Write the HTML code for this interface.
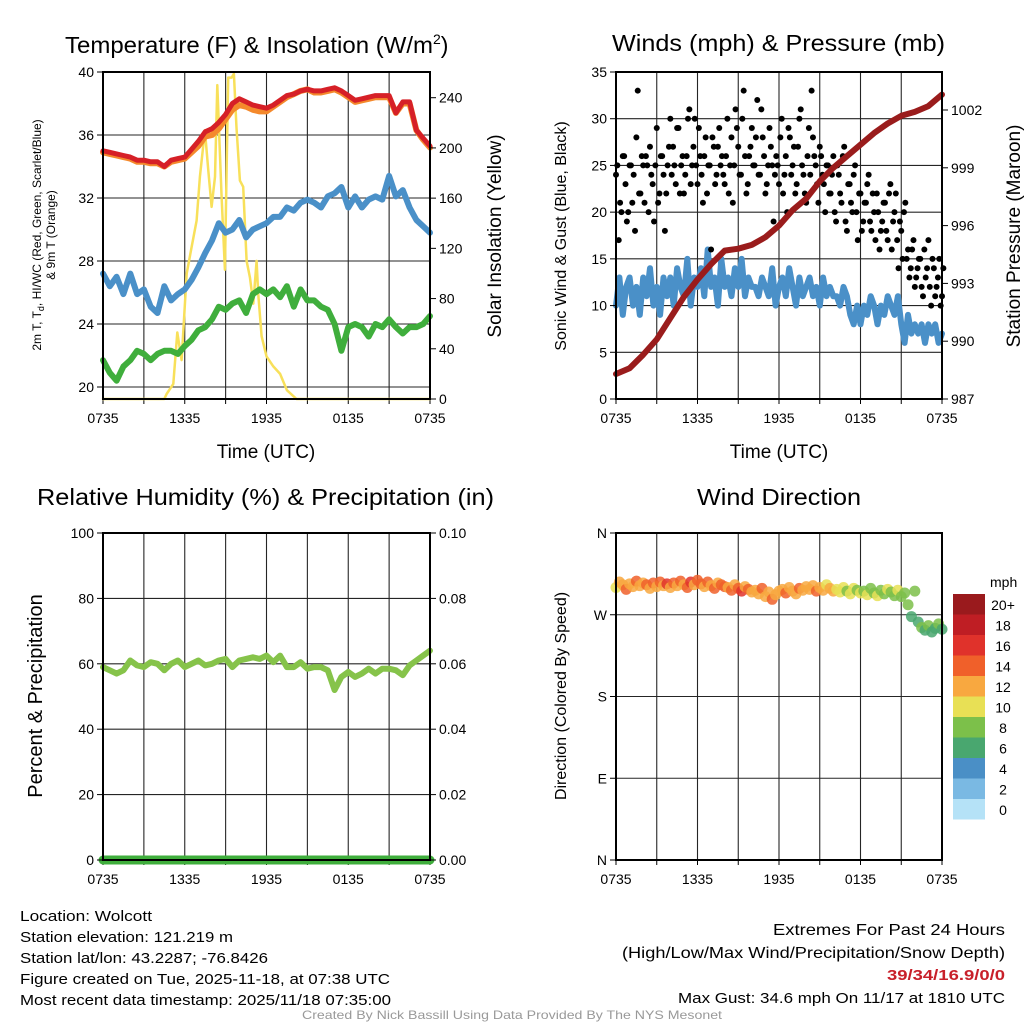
<!DOCTYPE html>
<html><head><meta charset="utf-8">
<style>
html,body{margin:0;padding:0;background:#fff;}
svg{display:block;font-family:"Liberation Sans",sans-serif;}
</style></head>
<body>
<svg id="chart" width="1024" height="1024" viewBox="0 0 1024 1024" xmlns="http://www.w3.org/2000/svg">
  <rect width="1024" height="1024" fill="#fff"/>
  <g id="layer"></g>
  <g font-size="23" fill="#000">
    <text x="65" y="53"><tspan textLength="368" lengthAdjust="spacingAndGlyphs">Temperature (F) &amp; Insolation (W/m</tspan><tspan dy="-9" font-size="14">2</tspan><tspan dy="9">)</tspan></text>
    <text x="612" y="51" textLength="333" lengthAdjust="spacingAndGlyphs">Winds (mph) &amp; Pressure (mb)</text>
    <text x="37" y="505" textLength="457" lengthAdjust="spacingAndGlyphs">Relative Humidity (%) &amp; Precipitation (in)</text>
    <text x="697" y="505" textLength="164" lengthAdjust="spacingAndGlyphs">Wind Direction</text>
  </g>
  <g fill="#000" text-anchor="middle">
    <text x="266" y="458" font-size="19">Time (UTC)</text>
    <text x="779" y="458" font-size="19">Time (UTC)</text>
    <text transform="translate(41,235) rotate(-90)" font-size="12">2m T, T<tspan font-size="9" dy="3">d</tspan><tspan dy="-3">, HI/WC (Red, Green, Scarlet/Blue)</tspan></text>
    <text transform="translate(55,235) rotate(-90)" font-size="12">&amp; 9m T (Orange)</text>
    <text transform="translate(501,236) rotate(-90)" font-size="19">Solar Insolation (Yellow)</text>
    <text transform="translate(566,236) rotate(-90)" font-size="16">Sonic Wind &amp; Gust (Blue, Black)</text>
    <text transform="translate(1020,236) rotate(-90)" font-size="19">Station Pressure (Maroon)</text>
    <text transform="translate(42,696) rotate(-90)" font-size="20">Percent &amp; Precipitation</text>
    <text transform="translate(566,696) rotate(-90)" font-size="16">Direction (Colored By Speed)</text>
  </g>
  <g font-size="15" fill="#000">
    <text x="20" y="921" textLength="132" lengthAdjust="spacingAndGlyphs">Location: Wolcott</text>
    <text x="20" y="942" textLength="213" lengthAdjust="spacingAndGlyphs">Station elevation: 121.219 m</text>
    <text x="20" y="963" textLength="248" lengthAdjust="spacingAndGlyphs">Station lat/lon: 43.2287; -76.8426</text>
    <text x="20" y="984" textLength="370" lengthAdjust="spacingAndGlyphs">Figure created on Tue, 2025-11-18, at 07:38 UTC</text>
    <text x="20" y="1005" textLength="371" lengthAdjust="spacingAndGlyphs">Most recent data timestamp: 2025/11/18 07:35:00</text>
  </g>
  <g fill="#000">
    <text x="773" y="935" font-size="16" textLength="232" lengthAdjust="spacingAndGlyphs">Extremes For Past 24 Hours</text>
    <text x="622" y="958" font-size="16" textLength="383" lengthAdjust="spacingAndGlyphs">(High/Low/Max Wind/Precipitation/Snow Depth)</text>
    <text x="887" y="980" font-size="15" font-weight="bold" fill="#c8202a" textLength="118" lengthAdjust="spacingAndGlyphs">39/34/16.9/0/0</text>
    <text x="678" y="1003" font-size="15" textLength="327" lengthAdjust="spacingAndGlyphs">Max Gust: 34.6 mph On 11/17 at 1810 UTC</text>
  </g>
  <text x="302" y="1019" font-size="12" fill="#999" textLength="420" lengthAdjust="spacingAndGlyphs">Created By Nick Bassill Using Data Provided By The NYS Mesonet</text>
</svg>
<script>
// ---- data (times in hours since 0735 UTC) ----
var xTickLabels = ["0735","1335","1935","0135","0735"];
var tempRed = [35.0,34.9,34.8,34.7,34.6,34.4,34.4,34.3,34.3,34.0,34.4,34.5,34.6,35.1,35.6,36.2,36.4,36.8,37.3,38.0,38.3,38.1,37.9,37.8,37.7,37.9,38.2,38.5,38.6,38.8,38.9,38.8,38.8,38.9,39.0,38.8,38.5,38.2,38.3,38.4,38.5,38.5,38.5,37.4,38.1,38.1,36.3,35.8,35.3];
var temp9m = [34.9,34.8,34.7,34.6,34.5,34.3,34.3,34.2,34.2,34.0,34.3,34.4,34.5,34.9,35.3,35.9,36.0,36.4,37.0,37.6,37.9,37.8,37.6,37.5,37.5,37.8,38.1,38.4,38.6,38.8,38.9,38.7,38.7,38.8,38.9,38.7,38.4,38.1,38.2,38.3,38.4,38.4,38.4,37.4,38.0,38.0,36.3,35.7,35.2];
var tempBlue = [27.2,26.4,27.0,25.9,27.2,25.9,26.2,25.1,24.7,26.4,25.5,25.9,26.2,26.8,27.6,28.5,29.3,30.4,29.8,30.0,30.6,29.5,30.0,30.2,30.4,30.8,30.8,31.4,31.2,31.7,31.9,31.7,31.4,32.1,32.3,32.7,31.4,32.1,31.4,31.9,32.1,31.9,33.4,32.1,32.5,31.4,30.6,30.2,29.8];
var dewGreen = [21.7,20.9,20.4,21.3,21.7,22.3,22.1,21.7,22.1,22.3,22.3,22.1,22.6,23.0,23.6,23.8,24.3,25.1,24.9,25.3,25.5,24.7,25.9,26.2,25.9,26.2,25.7,26.4,25.1,26.2,25.5,25.5,25.1,24.9,24.0,22.3,23.8,24.0,23.8,23.2,24.0,23.8,24.3,23.8,23.4,23.8,23.8,24.0,24.5];
var solarTimes = [0,4.5,4.67,5.16,5.45,5.77,6.14,6.5,6.87,7.11,7.48,7.73,7.97,8.22,8.39,8.7,8.95,9.19,9.44,9.61,9.8,10.05,10.29,10.54,10.78,11.03,11.27,11.39,11.64,12,12.5,13,13.5,14.2,24];
var solarVals = [0,0,4,12,53,31,100,121,142,177,214,182,153,177,250,163,103,256,256,259,216,174,169,110,97,76,110,84,50,34,26,20,7,0,0];
var sonicWind = [10,13,9,12,13,10,12,9,13, 11,14,10,12,9,13,11,13, 10,14,12,11,15,10,13,12, 14,11,16,12,13,10,15,12, 13,11,14,12,15,11,13,12, 12,11,13,12,11,14,10,12, 13,11,14,12,10,13,11,12, 13,11,12,10,13,11,12,11, 11,10,12,11,9,8,10,8, 10,9,11,10,8,10,9,11, 10,9,11,8,6,9,7,8, 7,8,6,8,7,8,6,7];
var gusts = [24,17,20,26,19,25,21,18,33,22,25,26,20,24,19,29,22,26,18,25,30, 27,23,29,25,22,26,31,25,30,23,26,21,28,25,16,27,24,29,26, 23,30,25,21,31,27,24,33,22,26,29,25,32,24,28,22,25,27,19, 26,23,30,24,20,28,25,22,27,31,24,21,29,33,26,23,27,24,20,25, 22,26,19,24,21,27,18,23,20,25,17,22,19,21,24,18,20,22,16, 19,21,17,23,19,22,14,18,20,15,13,16,12,14,15,11,13,17,10,14,12,15,11];
var gusts2 = [25,21,26,23,20,25,24,28,22,26,21,25,27,23,25,21,26,24,22,27,24, 25,29,22,26,24,30,23,27,25,29,24,26,22,25,28,23,27,25,24, 26,22,28,25,29,24,30,26,23,27,25,28,24,31,26,23,29,25,24, 25,28,22,26,29,24,27,23,30,25,22,26,24,28,25,21,26,23,25,22, 24,20,25,22,26,19,23,21,24,20,22,18,21,23,19,22,17,20,18, 21,18,22,16,20,17,19,15,21,16,14,17,13,15,12,16,14,12,15,11,13,10,14];
var pressure = [988.3,988.6,989.3,990.1,991.2,992.3,993.2,994.0,994.7,994.8,995.0,995.4,996.0,996.8,997.4,998.3,999.0,999.6,1000.2,1000.8,1001.3,1001.7,1001.9,1002.2,1002.8];
var humidity = [59,58,57,58,61,59.5,59,60.5,60,58,60,61,59,60,61,59.5,60,61,61.5,59,61,61.5,62,61.5,62.5,60.5,62.5,59,59,60.5,58.5,59,59,58,52,56,57.5,56,57,58.5,57,58.5,58.5,58,56.5,59.5,61,62.5,64];
var precip = [0,0,0,0,0,0,0,0,0,0,0,0,0,0,0,0,0,0,0,0,0,0,0,0,0];
var windDir = [300,306,303,298,304,301,307,302,305, 303,299,305,301,306,302,304,300, 305,302,307,303,300,306,303,308, 304,301,306,302,299,305,303,301, 300,297,303,299,296,301,298,295, 297,293,299,290,295,287,292,296, 298,294,300,296,293,299,297,301, 298,302,296,300,297,303,299,296, 298,295,300,296,293,299,297,294, 296,292,299,294,291,297,293,298, 295,291,297,290,294,281,268,296, 262,256,253,258,251,255,260,254];
var dirSpeed = [11,13,12,14,13,12,15,13,12, 14,13,15,12,14,13,16,13, 14,12,15,13,14,16,13,15, 14,13,15,12,14,13,15,14, 13,15,12,14,16,13,15,12, 13,12,14,13,12,14,13,12, 13,14,12,13,12,14,13,12, 13,12,14,12,13,11,12,13, 10,11,10,9,10,11,9,10, 9,10,8,9,10,8,9,10, 9,8,10,9,8,9,7,8, 7,8,7,8,7,7,8,7];
var speedBins = ["0","2","4","6","8","10","12","14","16","18","20+"];
var speedColors = ["#b5e2f7","#7ab9e3","#4a8fc6","#49a76f","#7cc04a","#e8e055","#f8a840","#f0602a","#e0322b","#bf1e24","#9a1a1d"];

var NS = "http://www.w3.org/2000/svg";
var layer = document.getElementById("layer");
function mk(tag, attrs, parent){var e=document.createElementNS(NS,tag);for(var k in attrs)e.setAttribute(k,attrs[k]);(parent||layer).appendChild(e);return e;}
function lin(d0,d1,r0,r1){return function(v){return r0+(v-d0)*(r1-r0)/(d1-d0);};}

function panel(name,x0,x1,y0,y1){
  var g=mk("g",{});
  
  
  return {g:g,x0:x0,x1:x1,y0:y0,y1:y1,x:lin(0,24,x0,x1)};
}
function frame(p, hLines){
  var grid=mk("g",{stroke:"#000","stroke-width":1.1,opacity:0.85},p.g);
  
  
  for(var h=3;h<24;h+=3){var gx=p.x(h);var l=mk("line",{x1:gx,x2:gx,y1:p.y0,y2:p.y1},grid);
    
    }
  hLines.forEach(function(gy){var l=mk("line",{x1:p.x0,x2:p.x1,y1:gy,y2:gy},grid);
    
    });
  var lab=mk("g",{"font-size":14,"text-anchor":"middle",fill:"#000"},p.g);
  
  
  for(var i=0;i<xTickLabels.length;i++){
    var tx=p.x(i*6);
    var t=mk("text",{x:tx,y:p.y1+24},lab);t.textContent=xTickLabels[i];
    
    
  }
  for(var h2=0;h2<=24;h2+=3){var tk=mk("line",{x1:p.x(h2),x2:p.x(h2),y1:p.y1,y2:p.y1+5,stroke:"#000","stroke-width":1},p.g);
    
    }
}
function border(p){
  var b=mk("rect",{x:p.x0,y:p.y0,width:p.x1-p.x0,height:p.y1-p.y0,fill:"none",stroke:"#000","stroke-width":2},p.g);
  
  
}
function yAxis(p,vals,labels,scale,side){
  var g=mk("g",{"font-size":14,fill:"#000","text-anchor":side==="left"?"end":"start"},p.g);
  
  
  for(var i=0;i<vals.length;i++){
    var y=scale(vals[i]);
    var xa=side==="left"?p.x0:p.x1;
    var tk=mk("line",{x1:xa,x2:side==="left"?xa-6:xa+6,y1:y,y2:y,stroke:"#000","stroke-width":1},g);
    
    
    var t=mk("text",{x:side==="left"?xa-9:xa+9,y:y+5},g);t.textContent=labels[i];
    
    
  }
}
function path(p,times,vals,ys,color,w,name){
  var d="";
  for(var i=0;i<vals.length;i++){d+=(i?"L":"M")+p.x(times[i]).toFixed(1)+","+ys(vals[i]).toFixed(1);}
  var e=mk("path",{d:d,fill:"none",stroke:color,"stroke-width":w,"stroke-linejoin":"round","stroke-linecap":"round"},p.g);
  
  
  return e;
}
function times(n,step){var a=[];for(var i=0;i<n;i++)a.push(i*step);return a;}

// ---- Panel 1: temperature ----
var p1=panel("temperature-panel",103,430,72,399);
var yT=lin(20,40,387,72), yS=lin(0,240,399,97.7);
frame(p1,[20,24,28,32,36].map(yT));
var t49=times(49,0.5);
path(p1,solarTimes,solarVals,yS,"#f8e05a",2.5,"solar-insolation-line");
path(p1,t49,dewGreen,yT,"#3fae3c",6,"dewpoint-line");
path(p1,t49,tempBlue,yT,"#4a90c8",6,"heat-index-wind-chill-line");
path(p1,t49,temp9m,yT,"#f4892c",6,"temp-9m-line");
path(p1,t49,tempRed,yT,"#d62027",5,"temp-2m-line");
border(p1);
yAxis(p1,[20,24,28,32,36,40],["20","24","28","32","36","40"],yT,"left");
yAxis(p1,[0,40,80,120,160,200,240],["0","40","80","120","160","200","240"],yS,"right");

// ---- Panel 2: winds ----
var p2=panel("winds-panel",616,942,72,399);
var yW=lin(0,35,399,72), yP=lin(987,1002,399,110);
frame(p2,[5,10,15,20,25,30].map(yW));
path(p2,times(97,0.25),sonicWind,yW,"#4a90c8",6,"sonic-wind-line");
var gg=mk("g",{fill:"#000"},p2.g);


for(var i=0;i<gusts.length;i++){
  var c=mk("circle",{cx:p2.x(i*0.2),cy:yW(gusts[i]),r:3},gg);
  
  
}
for(var i2=0;i2<gusts2.length;i2++){
  var c3=mk("circle",{cx:p2.x(i2*0.2+0.1),cy:yW(gusts2[i2]),r:3},gg);
  
  
}
path(p2,times(25,1),pressure,yP,"#9a1c1c",6,"pressure-line");
border(p2);
yAxis(p2,[0,5,10,15,20,25,30,35],["0","5","10","15","20","25","30","35"],yW,"left");
yAxis(p2,[987,990,993,996,999,1002],["987","990","993","996","999","1002"],yP,"right");

// ---- Panel 3: humidity ----
var p3=panel("humidity-panel",103,430,533,860);
var yH=lin(0,100,860,533), yR=lin(0,0.1,860,533);
frame(p3,[20,40,60,80].map(yH));
path(p3,t49,humidity,yH,"#86c34a",6,"humidity-line");
path(p3,times(25,1),precip,yR,"#3fae3c",9,"precipitation-line");
border(p3);
yAxis(p3,[0,20,40,60,80,100],["0","20","40","60","80","100"],yH,"left");
yAxis(p3,[0,0.02,0.04,0.06,0.08,0.1],["0.00","0.02","0.04","0.06","0.08","0.10"],yR,"right");

// ---- Panel 4: wind direction ----
var p4=panel("wind-direction-panel",616,942,533,860);
var yD=lin(0,360,860,533);
frame(p4,[90,180,270].map(yD));
var dg=mk("g",{"fill-opacity":0.85},p4.g);


for(var j=0;j<windDir.length;j++){
  var bin=Math.min(10,Math.max(0,Math.floor(dirSpeed[j]/2)));
  var c2=mk("circle",{cx:p4.x(j*0.25),cy:yD(windDir[j]),r:5.5,fill:speedColors[bin]},dg);
  
  
}
border(p4);
yAxis(p4,[0,90,180,270,360],["N","E","S","W","N"],yD,"left");

// ---- colorbar ----
var cb=mk("g",{});


var cbt=mk("text",{x:990,y:587,"font-size":14,fill:"#000"},cb);cbt.textContent="mph";


for(var k=0;k<speedBins.length;k++){
  var idx=speedBins.length-1-k;
  var ry=594+k*20.5;
  var r=mk("rect",{x:953,y:ry,width:32,height:20.5,fill:speedColors[idx]},cb);
  
  
  var tt=mk("text",{x:1003,y:ry+16,"font-size":14,"text-anchor":"middle",fill:"#000"},cb);tt.textContent=speedBins[idx];
  
  
}
</script>
</body></html>
